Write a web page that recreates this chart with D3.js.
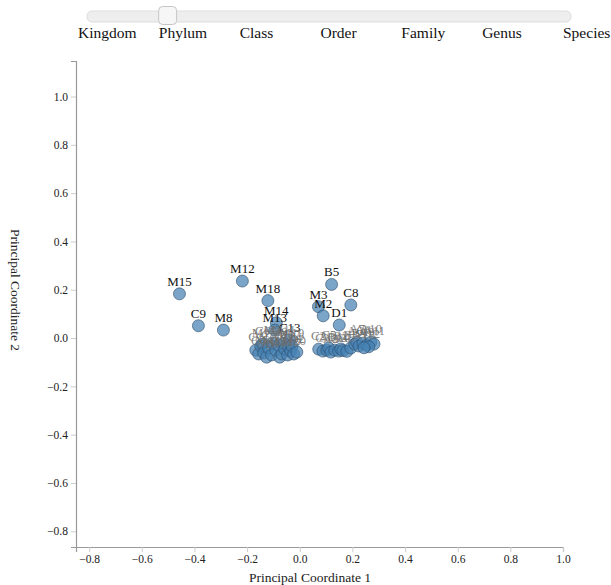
<!DOCTYPE html>
<html>
<head>
<meta charset="utf-8">
<script src="https://cdn.jsdelivr.net/npm/d3@7"></script>
<style>
  html, body { margin: 0; padding: 0; background: #fff; }
  svg { display: block; font-family: "Liberation Serif", "Times New Roman", serif; }
</style>
</head>
<body>
<svg id="chart" width="611" height="585"></svg>
<script>
// Taxonomic rank selector
const taxonLevels = ["Kingdom", "Phylum", "Class", "Order", "Family", "Genus", "Species"];
const selectedLevel = "Phylum";

// PCoA sample coordinates
const sampleIds = [
  "M15", "M12", "M18", "C9", "M8", "M14", "M13", "C13",
  "B5", "M3", "M2", "C8", "D1",
  // left cluster
  "C1", "C4", "M1", "C6", "M4", "M5", "C7", "M6", "M7", "C10", "M9", "M10",
  "C11", "M11", "C12", "M16", "M17", "C14", "M19", "M20", "D2",
  // right cluster
  "C2", "C3", "A1", "C5", "A2", "B1", "A3", "B2", "A4", "A5", "B3",
  "A6", "A7", "B4", "A8", "A9", "A10", "A11", "A12", "A13"
];
const pc1 = [
  -0.457, -0.218, -0.121, -0.385, -0.290, -0.089, -0.095, -0.038,
  0.121, 0.071, 0.089, 0.194, 0.150,
  -0.167, -0.156, -0.148, -0.141, -0.137, -0.126, -0.118, -0.107, -0.103, -0.091, -0.080, -0.076,
  -0.068, -0.061, -0.057, -0.046, -0.042, -0.034, -0.030, -0.023, -0.011,
  0.072, 0.088, 0.103, 0.110, 0.118, 0.133, 0.148, 0.156, 0.164, 0.179, 0.194,
  0.209, 0.217, 0.225, 0.240, 0.255, 0.270, 0.282, 0.262, 0.244
];
const pc2 = [
  0.183, 0.236, 0.155, 0.051, 0.033, 0.063, 0.033, -0.008,
  0.222, 0.130, 0.092, 0.137, 0.054,
  -0.050, -0.066, -0.033, -0.025, -0.062, -0.079, -0.041, -0.070, -0.021, -0.050, -0.029, -0.079,
  -0.066, -0.021, -0.046, -0.070, -0.037, -0.054, -0.033, -0.066, -0.058,
  -0.046, -0.054, -0.050, -0.041, -0.058, -0.050, -0.054, -0.045, -0.052, -0.055, -0.041,
  -0.025, -0.018, -0.033, -0.021, -0.029, -0.017, -0.025, -0.036, -0.040
];
// Samples whose labels stand out from the crowd
const labelledIds = ["M15", "M12", "M18", "C9", "M8", "M14", "M13", "C13", "B5", "M3", "M2", "C8", "D1"];

// Axis settings
const xDomain = [-0.85, 1.0];
const yDomain = [-0.865, 1.147];
const xTicks = [-0.8, -0.6, -0.4, -0.2, 0.0, 0.2, 0.4, 0.6, 0.8, 1.0];
const yTicks = [-0.8, -0.6, -0.4, -0.2, 0.0, 0.2, 0.4, 0.6, 0.8, 1.0];

const samples = sampleIds.map((id, i) => ({ id, x: pc1[i], y: pc2[i], lab: labelledIds.includes(id) }));

const svg = d3.select("#chart");

// ---- rank slider ----
const slider = svg.append("g").attr("class", "slider");
const trackX = d3.scalePoint().domain(taxonLevels).range([87, 571]);
slider.append("rect")
  .attr("x", 87).attr("y", 11).attr("width", 484).attr("height", 11)
  .attr("rx", 5).attr("fill", "#eeeeee").attr("stroke", "#dddddd");
slider.append("rect")
  .attr("x", trackX(selectedLevel) - 9).attr("y", 6.5).attr("width", 18).attr("height", 18)
  .attr("rx", 4).attr("fill", "#f6f6f6").attr("stroke", "#c5c5c5");
const labelX = d3.scalePoint().domain(taxonLevels).range([78, 563]);
slider.selectAll("text.level")
  .data(taxonLevels)
  .join("text")
  .attr("class", "level")
  .attr("x", d => labelX(d))
  .attr("y", 38)
  .attr("font-size", 15.5)
  .attr("fill", "#111")
  .text(d => d);

// ---- scatter plot ----
const x = d3.scaleLinear().domain(xDomain).range([76, 563]);
const y = d3.scaleLinear().domain(yDomain).range([547, 61]);

const xAxis = svg.append("g")
  .attr("transform", `translate(0,${y.range()[0]})`)
  .call(d3.axisBottom(x).tickValues(xTicks).tickFormat(d3.format(".1f")).tickSize(5).tickPadding(3));
const yAxis = svg.append("g")
  .attr("transform", `translate(${x.range()[0]},0)`)
  .call(d3.axisLeft(y).tickValues(yTicks).tickFormat(d3.format(".1f")).tickSize(5).tickPadding(3));

[xAxis, yAxis].forEach(a => {
  a.select(".domain").attr("stroke", "#999").attr("stroke-width", 1.2);
  a.selectAll(".tick line").attr("stroke", "#ccc");
  a.selectAll(".tick text")
    .attr("font-family", "Liberation Serif, Times New Roman, serif")
    .attr("font-size", 11.5)
    .attr("fill", "#222");
});

svg.append("text")
  .attr("x", 310).attr("y", 582)
  .attr("text-anchor", "middle")
  .attr("font-size", 13.5)
  .attr("fill", "#222")
  .text("Principal Coordinate 1");
svg.append("text")
  .attr("transform", "translate(11,290) rotate(90)")
  .attr("text-anchor", "middle")
  .attr("font-size", 13.5)
  .attr("fill", "#222")
  .text("Principal Coordinate 2");

const plot = svg.append("g");
plot.selectAll("circle")
  .data(samples)
  .join("circle")
  .attr("cx", d => x(d.x))
  .attr("cy", d => y(d.y))
  .attr("r", 6)
  .attr("fill", "steelblue")
  .attr("fill-opacity", 0.72)
  .attr("stroke", "#2b4a66")
  .attr("stroke-opacity", 0.6)
  .attr("stroke-width", 1);

// isolated labels are dark, crowded ones are muted and drawn on top
plot.selectAll("text.outlier")
  .data(samples.filter(d => d.lab))
  .join("text")
  .attr("class", "outlier")
  .attr("x", d => x(d.x))
  .attr("y", d => y(d.y) - 8)
  .attr("text-anchor", "middle")
  .attr("font-size", 13)
  .attr("fill", "#111")
  .text(d => d.id);
plot.selectAll("text.sample")
  .data(samples.filter(d => !d.lab))
  .join("text")
  .attr("class", "sample")
  .attr("x", d => x(d.x))
  .attr("y", d => y(d.y) - 9)
  .attr("text-anchor", "middle")
  .attr("font-size", 13)
  .attr("fill", "#6e6e6e")
  .attr("fill-opacity", 0.85)
  .text(d => d.id);
</script>
</body>
</html>
